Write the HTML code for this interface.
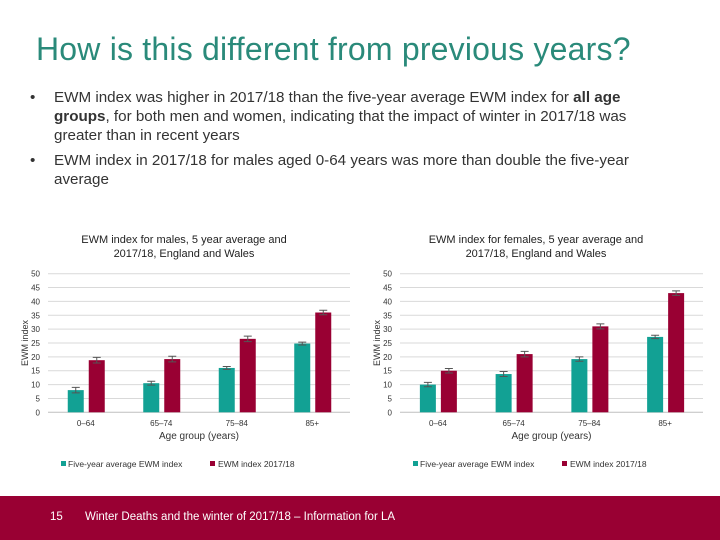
<!DOCTYPE html>
<html><head><meta charset="utf-8"><style>
body{margin:0;width:720px;height:540px;overflow:hidden;background:#fff;font-family:"Liberation Sans",sans-serif;position:relative}
.t{position:absolute;left:36px;top:31px;font-size:32px;color:#2a8a7a;letter-spacing:0.2px}
ul{position:absolute;left:30px;top:88px;margin:0;padding:0;list-style:none;width:640px;font-size:15.2px;color:#333;line-height:19px}
li{position:relative;padding-left:24px;margin-bottom:6px}
li:before{content:"•";position:absolute;left:0}
.f{position:absolute;left:0;top:496px;width:720px;height:44px;background:#990033;color:#fff;font-size:11.5px}
svg{position:absolute;left:0;top:0}
</style></head><body>
<div class="t">How is this different from previous years?</div>
<ul>
<li>EWM index was higher in 2017/18 than the five-year average EWM index for <b>all age groups</b>, for both men and women, indicating that the impact of winter in 2017/18 was greater than in recent years</li>
<li>EWM index in 2017/18 for males aged 0-64 years was more than double the five-year average</li>
</ul>
<svg id="c" width="720" height="540"></svg>
<div class="f"><span style="position:absolute;left:50px;top:15px">15</span><span style="position:absolute;left:85px;top:15px">Winter Deaths and the winter of 2017/18 – Information for LA</span></div>
<script>
const categories=["0–64","65–74","75–84","85+"];
const yTicks=[0,5,10,15,20,25,30,35,40,45,50];
const maleAvg=[8,10.5,16,24.8];
const maleAvgErr=[1,0.7,0.5,0.5];
const male2017=[18.8,19.2,26.5,36];
const male2017Err=[1,1,1,0.8];
const femaleAvg=[10,13.8,19.2,27.2];
const femaleAvgErr=[0.8,0.9,0.8,0.6];
const female2017=[15,21,31,43];
const female2017Err=[0.8,1,0.9,0.8];
const svg=document.getElementById('c');const NS='http://www.w3.org/2000/svg';
function mk(t,a,txt){const e=document.createElementNS(NS,t);for(const k in a)e.setAttribute(k,a[k]);if(txt!=null)e.textContent=txt;svg.appendChild(e);return e;}
function chart(x0,x1,title1,title2,tx,avg,avgE,cur,curE,key){
 const y0=412.3,y50=273.7;const y=v=>y0-(v/50)*(y0-y50);
 const gw=(x1-x0)/categories.length;
 let e=mk('text',{x:tx,y:243,'text-anchor':'middle','font-size':11,fill:'#222'},title1);
 
 e=mk('text',{x:tx,y:257,'text-anchor':'middle','font-size':11,fill:'#222'},title2);
 
 yTicks.forEach(t=>{
  if(t>0){e=mk('line',{x1:x0,x2:x1,y1:y(t),y2:y(t),stroke:'#d9d9d9','stroke-width':1});}
  e=mk('text',{x:x0-8,y:y(t)+3,'text-anchor':'end','font-size':8,fill:'#333'},t);
  
 });
 e=mk('line',{x1:x0,x2:x1,y1:y0,y2:y0,stroke:'#bfbfbf'});
 categories.forEach((c,i)=>{
  const cx=x0+gw*(i+0.5);
  [[avg,avgE,'#12a194',-18],[cur,curE,'#990033',3]].forEach(([s,se,col,off],j)=>{
   const v=s[i];
   let r=mk('rect',{x:cx+off,y:y(v),width:16,height:y0-y(v),fill:col});
   
   const ex=cx+off+8;
   r=mk('path',{d:`M${ex},${y(v+se[i])}V${y(v-se[i])}M${ex-4},${y(v+se[i])}H${ex+4}M${ex-4},${y(v-se[i])}H${ex+4}`,stroke:'#555',fill:'none','stroke-width':1});
   
  });
  e=mk('text',{x:cx,y:426,'text-anchor':'middle','font-size':8,fill:'#333'},c);
  
 });
 const mid=(x0+x1)/2;
 e=mk('text',{x:mid,y:439,'text-anchor':'middle','font-size':10,fill:'#333'},'Age group (years)');
 
 e=mk('text',{x:0,y:0,'text-anchor':'middle','font-size':9,fill:'#333',transform:`translate(${x0-20},${(y0+y50)/2}) rotate(-90)`},'EWM index');
 
 const lx=x0+13;
 e=mk('rect',{x:lx,y:461,width:5,height:5,fill:'#12a194'});
 e=mk('text',{x:lx+7,y:467,'font-size':8.5,fill:'#333'},'Five-year average EWM index');
 e=mk('rect',{x:lx+149,y:461,width:5,height:5,fill:'#990033'});
 e=mk('text',{x:lx+157,y:467,'font-size':8.5,fill:'#333'},'EWM index 2017/18');
}
chart(48,350,'EWM index for males, 5 year average and','2017/18, England and Wales',184,maleAvg,maleAvgErr,male2017,male2017Err,'males');
chart(400,703,'EWM index for females, 5 year average and','2017/18, England and Wales',536,femaleAvg,femaleAvgErr,female2017,female2017Err,'females');
</script>
</body></html>
